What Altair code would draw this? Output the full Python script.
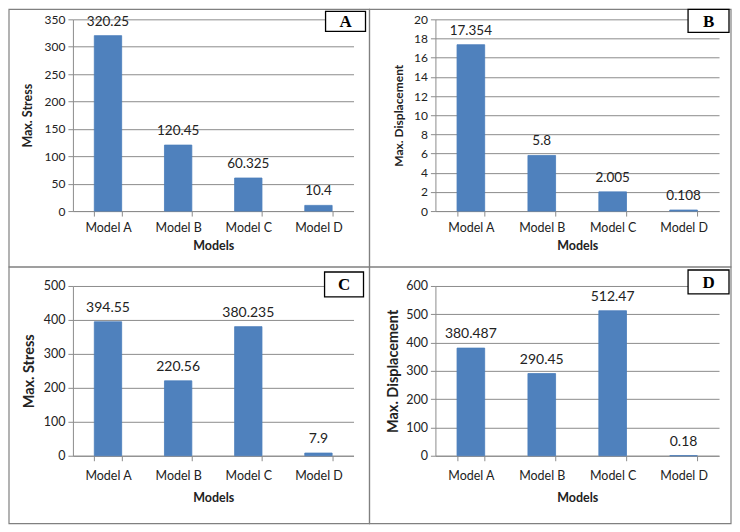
import altair as alt
import pandas as pd

models = ['Model A', 'Model B', 'Model C', 'Model D']

stress_a = [320.25, 120.45, 60.325, 10.4]
disp_b = [17.354, 5.8, 2.005, 0.108]
stress_c = [394.55, 220.56, 380.235, 7.9]
disp_d = [380.487, 290.45, 512.47, 0.18]

FONT = 'Lato'
BAR = '#4F81BD'
GRID = '#8c8c8c'


def panel(values, letter, ytitle, ymax, ystep, w, h, frame, box, tpad,
          fs, tfs, yfs, lpad, xtpad):
    df = pd.DataFrame({'model': models, 'value': values,
                       'label': [str(v) for v in values]})
    base = alt.Chart(df)

    x = alt.X('model:N', sort=models, title='Models',
              scale=alt.Scale(paddingInner=0.61, paddingOuter=0.305),
              axis=alt.Axis(labelAngle=0, tickBand='extent', grid=False,
                            labelFontSize=12.5, titleFontSize=12.5,
                            labelPadding=lpad, titlePadding=xtpad))
    y = alt.Y('value:Q', title=ytitle,
              scale=alt.Scale(domain=[0, ymax], nice=False),
              axis=alt.Axis(values=list(range(0, ymax + 1, ystep)), grid=True,
                            labelFontSize=fs, titleFontSize=yfs,
                            labelPadding=3, titlePadding=tpad))

    bars = base.mark_bar(color=BAR, stroke='#4A7EBB', strokeWidth=0.8).encode(x=x, y=y)
    text = base.mark_text(baseline='bottom', dy=-7, fontSize=tfs,
                          font=FONT, color='#222222').encode(x=x, y=y, text='label')

    tag = alt.Chart(pd.DataFrame({'letter': [letter]}))
    outer = tag.mark_rect(fill='transparent', stroke='#808080', strokeWidth=1.2).encode(
        x=alt.value(frame[0]), x2=alt.value(frame[1]),
        y=alt.value(frame[2]), y2=alt.value(frame[3]))
    tag_box = tag.mark_rect(fill='white', stroke='black', strokeWidth=1.3).encode(
        x=alt.value(box[0]), x2=alt.value(box[1]),
        y=alt.value(box[2]), y2=alt.value(box[3]))
    tag_text = tag.mark_text(font='Liberation Serif', fontWeight='bold', fontSize=17,
                             align='center', baseline='middle').encode(
        x=alt.value((box[0] + box[1]) / 2), y=alt.value((box[2] + box[3]) / 2 + 1),
        text='letter')

    return alt.layer(outer, bars, text, tag_box, tag_text).properties(width=w, height=h)


pa = panel(stress_a, 'A', 'Max. Stress', 350, 50, 281, 192,
           (-64, 297, -10, 248), (253, 293, -8, 12), 10, 12, 13.5, 12.5, 5, 6)
pb = panel(disp_b, 'B', 'Max. Displacement', 20, 2, 284, 192,
           (-66, 296, -10, 248), (253, 294, -10, 13), 8, 12, 13.5, 12, 5, 6)
pc = panel(stress_c, 'C', 'Max. Stress', 500, 100, 281, 170,
           (-64, 297, -19, 238), (252, 291, -14, 11), 7, 12.5, 14, 14.5, 9, 9)
pd_ = panel(disp_d, 'D', 'Max. Displacement', 600, 100, 284, 170,
            (-66, 296, -19, 238), (253, 294, -16, 8), 5, 12.5, 14, 14.5, 9, 9)

chart = alt.concat(
    pa, pb, pc, pd_, columns=2, bounds='flush',
    spacing={'row': 75, 'column': 82}
).properties(
    padding=0, background='white'
).configure_view(
    strokeWidth=0
).configure_axis(
    labelFont=FONT, titleFont=FONT, labelColor='#222222', titleColor='#222222',
    titleFontWeight='bold', domainColor=GRID, tickColor=GRID, gridColor=GRID,
    tickSize=5
)

chart.save("out.html", embed_options={"renderer": "svg", "actions": False})
